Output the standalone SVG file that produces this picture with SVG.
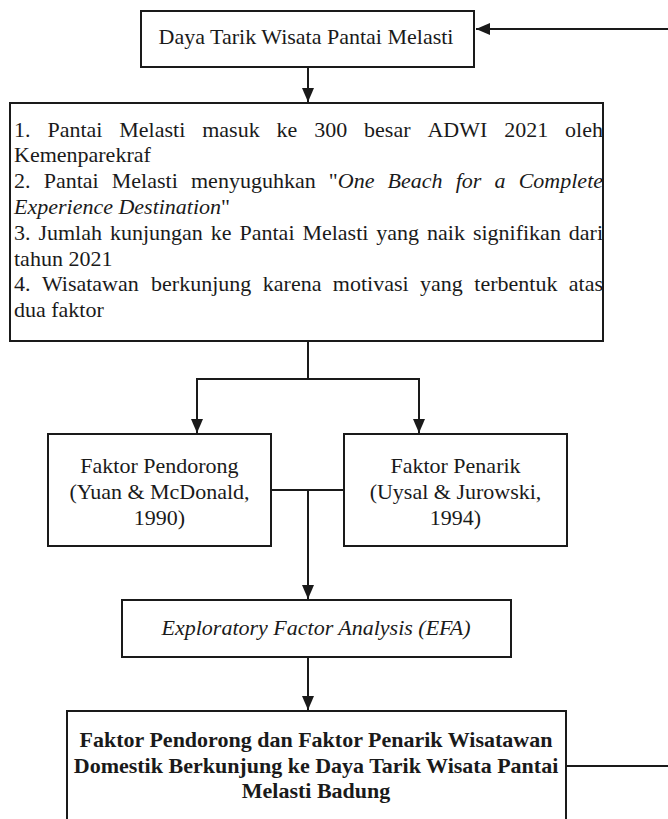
<svg xmlns="http://www.w3.org/2000/svg" width="668" height="819" viewBox="0 0 668 819">
<style>
.box{fill:#fff;stroke:#1a1a1a;stroke-width:2}
text{font-family:'Liberation Serif','Times New Roman',serif;font-size:22px;fill:#1a1a1a}
.c{text-anchor:middle}
.i{font-style:italic}
.b{font-weight:bold}
.conn{fill:none;stroke:#1a1a1a;stroke-width:2}
</style>
<defs>
<marker id="arr" markerUnits="userSpaceOnUse" markerWidth="14" markerHeight="12" refX="14" refY="6" orient="auto">
<path d="M0,0 L14,6 L0,12 Z" fill="#1a1a1a"/>
</marker>
</defs>
<rect width="668" height="819" fill="#fff"/>
<g id="connectors">
<path class="conn" d="M566,766 H672 V29 H476" marker-end="url(#arr)"/>
<path class="conn" d="M308,67 V102" marker-end="url(#arr)"/>
<path class="conn" d="M308,341 V379 H197 V433" marker-end="url(#arr)"/>
<path class="conn" d="M308,379 H419 V433" marker-end="url(#arr)"/>
<path class="conn" d="M271,490 H344"/>
<path class="conn" d="M308,490 V599" marker-end="url(#arr)"/>
<path class="conn" d="M308,657 V710" marker-end="url(#arr)"/>
</g>
<g id="daya-tarik">
<rect class="box" x="141" y="11" width="333" height="56"/>
<text class="c" x="306" y="44">Daya Tarik Wisata Pantai Melasti</text>
</g>
<g id="latar">
<rect class="box" x="10" y="103" width="593" height="238"/>
<text y="136.5"><tspan x="14">1.</tspan><tspan x="47.4">Pantai</tspan><tspan x="119.3">Melasti</tspan><tspan x="202.2">masuk</tspan><tspan x="276.5">ke</tspan><tspan x="314.2">300</tspan><tspan x="364.1">besar</tspan><tspan x="427.4">ADWI</tspan><tspan x="504.2">2021</tspan><tspan x="565.1">oleh</tspan></text>
<text x="14" y="162.3">Kemenparekraf</text>
<text y="188.1"><tspan x="14">2.</tspan><tspan x="43.7">Pantai</tspan><tspan x="111.8">Melasti</tspan><tspan x="191">menyuguhkan</tspan><tspan x="328.8">"</tspan><tspan class="i">One</tspan><tspan class="i" x="387.6">Beach</tspan><tspan class="i" x="455.7">for</tspan><tspan class="i" x="494.5">a</tspan><tspan class="i" x="518.7">Complete</tspan></text>
<text x="14" y="213.9"><tspan class="i">Experience Destination</tspan>"</text>
<text y="239.7"><tspan x="14">3.</tspan><tspan x="38.4">Jumlah</tspan><tspan x="109.9">kunjungan</tspan><tspan x="210.8">ke</tspan><tspan x="239.5">Pantai</tspan><tspan x="302.4">Melasti</tspan><tspan x="376.3">yang</tspan><tspan x="427">naik</tspan><tspan x="472.9">signifikan</tspan><tspan x="568.8">dari</tspan></text>
<text x="14" y="265.5">tahun 2021</text>
<text y="291.3"><tspan x="14">4.</tspan><tspan x="41.9">Wisatawan</tspan><tspan x="151.1">berkunjung</tspan><tspan x="262.8">karena</tspan><tspan x="332.8">motivasi</tspan><tspan x="420.1">yang</tspan><tspan x="474.3">terbentuk</tspan><tspan x="568.8">atas</tspan></text>
<text x="14" y="317.1">dua faktor</text>
</g>
<g id="faktor-pendorong">
<rect class="box" x="48" y="434" width="223" height="112"/>
<text class="c" x="159.5" y="473">Faktor Pendorong</text>
<text class="c" x="159.5" y="499">(Yuan &amp; McDonald,</text>
<text class="c" x="159.5" y="525">1990)</text>
</g>
<g id="faktor-penarik">
<rect class="box" x="344" y="434" width="223" height="112"/>
<text class="c" x="455.5" y="473">Faktor Penarik</text>
<text class="c" x="455.5" y="499">(Uysal &amp; Jurowski,</text>
<text class="c" x="455.5" y="525">1994)</text>
</g>
<g id="efa">
<rect class="box" x="122" y="600" width="389" height="57"/>
<text class="c i" x="316" y="635">Exploratory Factor Analysis (EFA)</text>
</g>
<g id="hasil">
<rect class="box" x="67" y="711" width="499" height="120"/>
<text class="c b" x="316" y="747">Faktor Pendorong dan Faktor Penarik Wisatawan</text>
<text class="c b" x="316" y="772.7">Domestik Berkunjung ke Daya Tarik Wisata Pantai</text>
<text class="c b" x="316" y="798.3">Melasti Badung</text>
</g>
</svg>
